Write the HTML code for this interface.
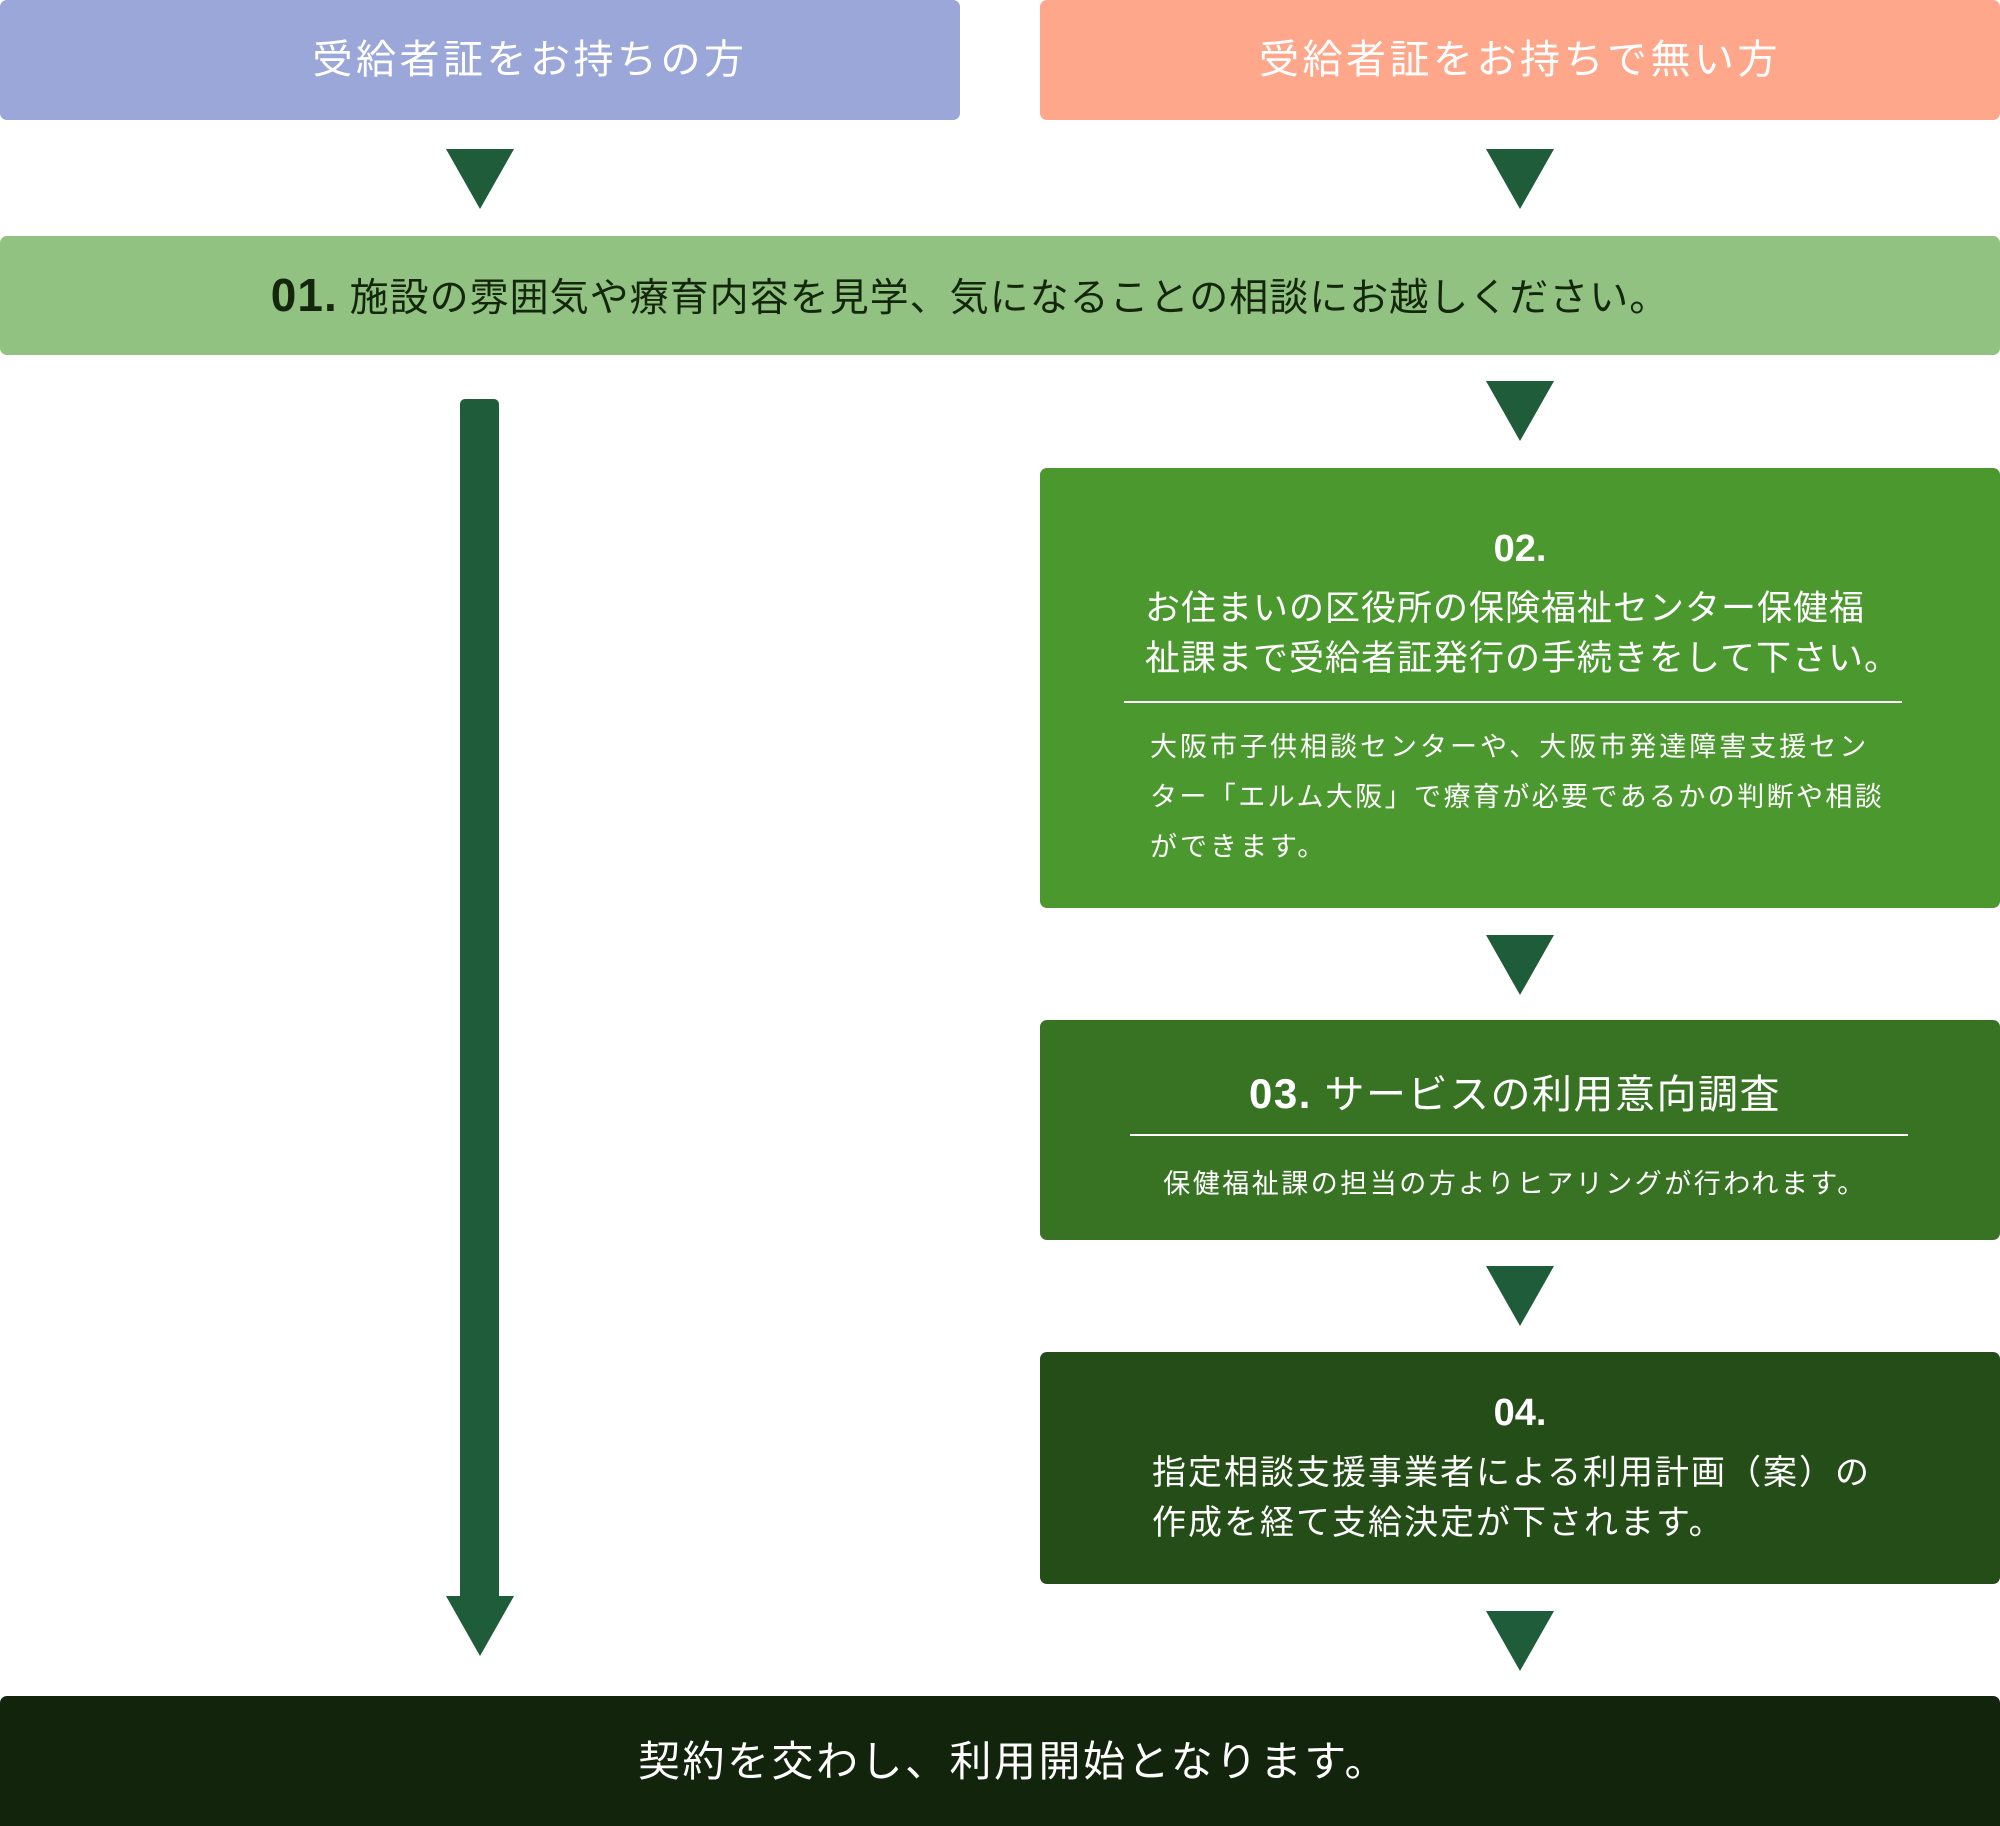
<!DOCTYPE html>
<html><head><meta charset="utf-8"><style>
*{margin:0;padding:0;box-sizing:border-box}
body{width:2000px;height:1816px;position:relative;background:#fff;font-family:"Liberation Sans","Noto Sans CJK JP",sans-serif;overflow:hidden}
.b{position:absolute;border-radius:7px}
.t{position:absolute;white-space:nowrap;color:#fff}
.tri{position:absolute;width:0;height:0;border-left:34px solid transparent;border-right:34px solid transparent;border-top:60px solid #1e5c3a}
.hr{position:absolute;height:2px;background:#fff}
</style></head><body>
<div class="b" style="left:0;top:0;width:960px;height:120px;background:#9aa7d8"></div>
<div class="t" style="left:0;top:0;width:1060px;height:120px;line-height:120px;text-align:center;font-size:40px;letter-spacing:3.5px">受給者証をお持ちの方</div>
<div class="b" style="left:1040px;top:0;width:960px;height:120px;background:#ffa78b"></div>
<div class="t" style="left:1040px;top:0;width:960px;height:120px;line-height:120px;text-align:center;font-size:40px;letter-spacing:3.5px">受給者証をお持ちで無い方</div>
<div class="tri" style="left:446px;top:149px"></div>
<div class="tri" style="left:1486px;top:149px"></div>
<div class="b" style="left:0;top:236px;width:2000px;height:119px;background:#92c282"></div>
<div class="t" style="left:0;top:236px;width:1940px;height:119px;line-height:119px;text-align:center;font-size:39px;color:#14260c;letter-spacing:1px"><b style="font-size:46px">01.</b> 施設の雰囲気や療育内容を見学、気になることの相談にお越しください。</div>
<div style="position:absolute;left:460px;top:399px;width:39px;height:1200px;background:#1e5c3a;border-radius:5px 5px 0 0"></div>
<div class="tri" style="left:446px;top:1596px"></div>
<div class="tri" style="left:1486px;top:381px"></div>
<div class="b" style="left:1040px;top:468px;width:960px;height:440px;background:#4a982e"></div>
<div class="t" style="left:1040px;top:528px;width:960px;text-align:center;font-size:38px;font-weight:bold">02.</div>
<div class="t" style="left:1145px;top:584px;font-size:35px;line-height:50px;letter-spacing:1px">お住まいの区役所の保険福祉センター保健福<br>祉課まで受給者証発行の手続きをして下さい。</div>
<div class="hr" style="left:1124px;top:701px;width:778px"></div>
<div class="t" style="left:1150px;top:722px;font-size:27px;line-height:50px;letter-spacing:3px">大阪市子供相談センターや、大阪市発達障害支援セン<br><span style="letter-spacing:2.4px">ター「エルム大阪」で療育が必要であるかの判断や相談</span><br>ができます。</div>
<div class="tri" style="left:1486px;top:935px"></div>
<div class="b" style="left:1040px;top:1020px;width:960px;height:220px;background:#377323"></div>
<div class="t" style="left:1040px;top:1062px;width:950px;text-align:center;font-size:40px;letter-spacing:1.5px"><b style="font-size:42px">03.</b> サービスの利用意向調査</div>
<div class="hr" style="left:1130px;top:1134px;width:778px"></div>
<div class="t" style="left:1040px;top:1162px;width:950px;text-align:center;font-size:27px;letter-spacing:2.5px">保健福祉課の担当の方よりヒアリングが行われます。</div>
<div class="tri" style="left:1486px;top:1266px"></div>
<div class="b" style="left:1040px;top:1352px;width:960px;height:232px;background:#244d18"></div>
<div class="t" style="left:1040px;top:1392px;width:960px;text-align:center;font-size:38px;font-weight:bold">04.</div>
<div class="t" style="left:1152px;top:1448px;font-size:34px;line-height:50px;letter-spacing:2px">指定相談支援事業者による利用計画（案）の<br>作成を経て支給決定が下されます。</div>
<div class="tri" style="left:1486px;top:1611px"></div>
<div class="b" style="left:0;top:1696px;width:2000px;height:130px;background:#13240d;border-radius:7px 7px 0 0"></div>
<div class="t" style="left:638px;top:1728px;font-size:42px;letter-spacing:2.5px">契約を交わし、利用開始となります。</div>
</body></html>
